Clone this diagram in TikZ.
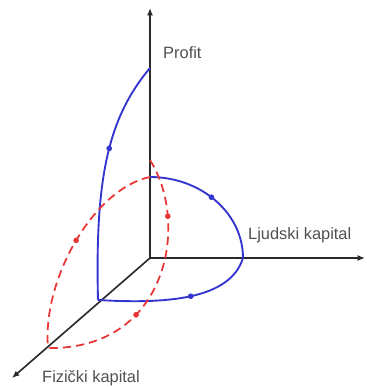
\documentclass[tikz,border=0pt]{standalone}
\usepackage{fontspec}
\setmainfont{Liberation Sans}
\usetikzlibrary{arrows.meta}
\definecolor{axisink}{HTML}{2A2A2A}
\definecolor{labtx}{HTML}{505050}
\definecolor{bluepath}{HTML}{3535D0}
\definecolor{redpath}{HTML}{E83535}

\begin{document}
\begin{tikzpicture}[x=0.3mm,y=0.3mm,
  axis/.style={axisink,line width=1.4pt,-{Latex[length=2.2mm,width=1.8mm]}},
  lab/.style={labtx,font=\fontsize{14}{16}\selectfont,inner sep=0pt,anchor=west},
  blueline/.style={bluepath,line width=1.6pt},
  redline/.style={redpath,line width=1.5pt,dash pattern=on 2.5mm off 1.5mm},
  dot/.style={circle,fill,inner sep=0pt,minimum size=1.7mm}]
  \useasboundingbox (-150,-129) rectangle (217,258);
  % axes
  \coordinate (O) at (0,0);
  \coordinate (ztop) at (0,250);
  \coordinate (yend) at (215,0);
  \coordinate (xend) at (-138,-120);
  \draw[axis] (O) -- (ztop);
  \draw[axis] (O) -- (yend);
  \draw[axis] (O) -- (xend);
  \node[lab] (profit) at (13,205) {Profit};
  \node[lab] (ljudski) at (98,23) {Ljudski kapital};
  \node[lab] (fizicki) at (-108,-120) {Fizički kapital};
  % points on the axes
  \coordinate (bz1) at (0,190);
  \coordinate (bz2) at (0,81);
  \coordinate (by) at (93,0);
  \coordinate (bx) at (-52,-42);
  \coordinate (rz) at (0,98);
  \coordinate (rx) at (-102,-90);
  % blue path
  \draw[blueline] (bz1) .. controls (-42,140) and (-55,80) .. node[dot,pos=0.46] (b1) {} (bx);
  \draw[blueline] (bz2) .. controls (51,81) and (93,45) .. node[dot,pos=0.46] (b2) {} (by);
  \draw[blueline] (bx) .. controls (15,-46) and (80,-42) .. node[dot,pos=0.5] (b3) {} (by);
  % red dashed path
  \draw[redline] (rz) .. controls (40,35) and (18,-92) .. node[dot,pos=0.25] (r1) {} node[dot,pos=0.67] (r2) {} (rx);
  \draw[redline] (bz2) .. controls (-55,70) and (-108,-20) .. node[dot,pos=0.5] (r3) {} (rx);
\end{tikzpicture}
\end{document}
